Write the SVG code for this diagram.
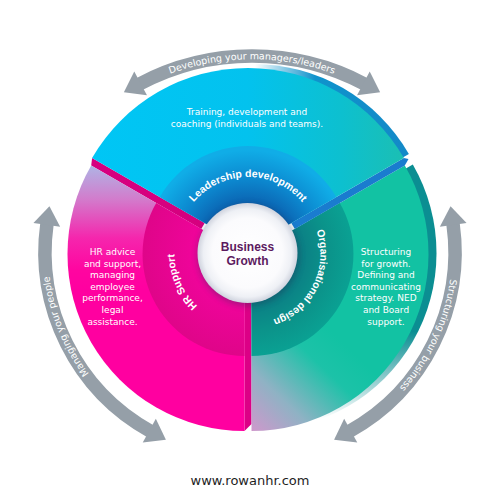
<svg xmlns="http://www.w3.org/2000/svg" width="500" height="500" viewBox="0 0 500 500">
<defs>
<style>
.arrow{fill:none;stroke:#959fa8;stroke-width:13.5;marker-start:url(#ahS);marker-end:url(#ahE)}
.atxt{font-family:"DejaVu Sans",sans-serif;font-size:9.5px;fill:#fff}
.body{font-family:"DejaVu Sans",sans-serif;font-size:9px;fill:#fff;text-anchor:middle}
.lbl{font-family:"Liberation Sans",Arial,sans-serif;font-weight:bold;font-size:10.5px;fill:#fff}
.ctr{font-family:"Liberation Sans",Arial,sans-serif;font-weight:bold;font-size:12px;fill:#5c1a5f;text-anchor:middle}
</style>
<marker id="ahE" markerUnits="userSpaceOnUse" viewBox="-2 -14 20 28" markerWidth="20" markerHeight="28" refX="0" refY="0" orient="auto" overflow="visible">
<path d="M-1.5,-13.5 L17.5,0 L-1.5,13.5 Z" fill="#959fa8"/>
</marker>
<marker id="ahS" markerUnits="userSpaceOnUse" viewBox="-18 -14 20 28" markerWidth="20" markerHeight="28" refX="0" refY="0" orient="auto" overflow="visible">
<path d="M1.5,-13.5 L-17.5,0 L1.5,13.5 Z" fill="#959fa8"/>
</marker>
<linearGradient id="gBlue" gradientUnits="userSpaceOnUse" x1="92" y1="0" x2="404" y2="0">
<stop offset="0" stop-color="#00c6f5"/><stop offset="0.5" stop-color="#03c2ee"/><stop offset="0.8" stop-color="#0dc0cf"/><stop offset="1" stop-color="#1bbfb3"/>
</linearGradient>
<radialGradient id="gBlueRing" gradientUnits="userSpaceOnUse" cx="248" cy="252" r="102">
<stop offset="0.45" stop-color="#0b5fae"/><stop offset="0.72" stop-color="#0c88cf"/><stop offset="1" stop-color="#10ade7"/>
</radialGradient>
<linearGradient id="gBlueRim" gradientUnits="userSpaceOnUse" x1="250" y1="0" x2="400" y2="0">
<stop offset="0" stop-color="#0f93cc" stop-opacity="0"/><stop offset="0.4" stop-color="#0f93cc"/><stop offset="1" stop-color="#1389c8"/>
</linearGradient>
<linearGradient id="gPink" gradientUnits="userSpaceOnUse" x1="0" y1="160" x2="0" y2="290">
<stop offset="0" stop-color="#a9bde9"/><stop offset="0.3" stop-color="#d27ccc"/><stop offset="0.6" stop-color="#f526ad"/><stop offset="0.85" stop-color="#ff05a0"/><stop offset="1" stop-color="#ff00a0"/>
</linearGradient>
<radialGradient id="gPinkRing" gradientUnits="userSpaceOnUse" cx="244.5" cy="254" r="102">
<stop offset="0.5" stop-color="#ef049a"/><stop offset="1" stop-color="#df0589"/>
</radialGradient>
<linearGradient id="gGreen" gradientUnits="userSpaceOnUse" x1="252" y1="432" x2="340" y2="340">
<stop offset="0" stop-color="#cf98cc"/><stop offset="0.35" stop-color="#8fb2c4"/><stop offset="0.75" stop-color="#1cc2a8"/><stop offset="1" stop-color="#12c2a3"/>
</linearGradient>
<radialGradient id="gGreenRing" gradientUnits="userSpaceOnUse" cx="251.5" cy="254" r="102">
<stop offset="0.45" stop-color="#0b7c84"/><stop offset="0.75" stop-color="#0b938a"/><stop offset="1" stop-color="#0aa193"/>
</radialGradient>
<linearGradient id="gGreenRim" gradientUnits="userSpaceOnUse" x1="0" y1="170" x2="0" y2="420">
<stop offset="0" stop-color="#0b8e92"/><stop offset="0.65" stop-color="#0b8e92"/><stop offset="1" stop-color="#0b8e92" stop-opacity="0"/>
</linearGradient>
<radialGradient id="gWhite" cx="0.5" cy="0.5" r="0.5">
<stop offset="0" stop-color="#ffffff"/><stop offset="0.7" stop-color="#fbfbfd"/><stop offset="0.88" stop-color="#eef0f5"/><stop offset="1" stop-color="#cfd3de"/>
</radialGradient>
<filter id="shadow" x="-30%" y="-30%" width="160%" height="160%">
<feGaussianBlur stdDeviation="3"/>
</filter>
<path id="tpTop" d="M29.5,215 A236.8,236.8 0 0 1 474.5,215"/>
<path id="tpLeft" d="M214.9,450.9 A202,202 0 0 1 86.6,133.3"/>
<path id="tpRight" d="M415.5,136.1 A202,202 0 0 1 267.6,453.2"/>
<path id="tpLead" d="M181.3,223.7 A71,71 0 0 1 314.7,223.7"/>
<path id="tpOrg" d="M301.1,206.1 A69,69 0 0 1 244.3,322.6"/>
<path id="tpHR" d="M249.4,323.8 A70,70 0 0 1 195.9,203.6"/>
</defs>
<rect width="500" height="500" fill="#ffffff"/>

<g id="connectors">
<path class="arrow" d="M139.3,84.1 A240,240 0 0 1 364.7,84.1"/>
<path class="arrow" d="M150.6,431.3 A205,205 0 0 1 47.0,223.5"/>
<path class="arrow" d="M453.0,223.5 A205,205 0 0 1 349.4,431.3"/>
<text class="atxt"><textPath href="#tpTop" startOffset="50%" text-anchor="middle">Developing your managers/leaders</textPath></text>
<text class="atxt"><textPath href="#tpLeft" startOffset="50%" text-anchor="middle">Managing your people</textPath></text>
<text class="atxt"><textPath href="#tpRight" startOffset="50%" text-anchor="middle">Structuring your business</textPath></text>
</g>

<g id="node-hr-support">
<polygon points="204.7,223 92.1,158 91.2,165.5 201.2,229" fill="#d6007f"/>
<polygon points="244.5,290 251.5,290 251.5,424 244.5,431" fill="#dc0086"/>
<path d="M244.5,254 L244.5,431 A177,177 0 0 1 91.2,165.5 Z" fill="url(#gPink)"/>
<path d="M244.5,254 L244.5,356 A102,102 0 0 1 156.2,203 Z" fill="url(#gPinkRing)"/>
<text class="lbl"><textPath href="#tpHR" startOffset="50%" text-anchor="middle">HR Support</textPath></text>
<text class="body" x="112.5" y="255">HR advice</text>
<text class="body" x="112.5" y="266.6">and support,</text>
<text class="body" x="112.5" y="278.2">managing</text>
<text class="body" x="112.5" y="289.8">employee</text>
<text class="body" x="112.5" y="301.4">performance,</text>
<text class="body" x="112.5" y="313">legal</text>
<text class="body" x="112.5" y="324.6">assistance.</text>
</g>

<g id="node-organisational-design">
<path d="M251.5,254 L404.8,165.5 A177,177 0 0 1 251.5,431 Z" transform="translate(8,-1)" fill="url(#gGreenRim)"/>
<path d="M251.5,254 L404.8,165.5 A177,177 0 0 1 251.5,431 Z" fill="url(#gGreen)"/>
<path d="M251.5,254 L339.8,203 A102,102 0 0 1 251.5,356 Z" fill="url(#gGreenRing)"/>
<text class="lbl"><textPath href="#tpOrg" startOffset="50%" text-anchor="middle">Organisational design</textPath></text>
<text class="body" x="386" y="255">Structuring</text>
<text class="body" x="386" y="266.6">for growth.</text>
<text class="body" x="386" y="278.2">Defining and</text>
<text class="body" x="386" y="289.8">communicating</text>
<text class="body" x="386" y="301.4">strategy. NED</text>
<text class="body" x="386" y="313">and Board</text>
<text class="body" x="386" y="324.6">support.</text>
</g>

<g id="node-leadership-development">
<path d="M248,248 L92.1,158 A180,180 0 0 1 403.9,158 Z" transform="translate(5,-4)" fill="url(#gBlueRim)"/>
<polygon points="291.3,223 403.9,158 408.5,159 404.8,165.5 294.8,229" fill="#1a7ccf"/>
<path d="M248,248 L92.1,158 A180,180 0 0 1 403.9,158 Z" fill="url(#gBlue)"/>
<path d="M248,248 L159.7,197 A102,102 0 0 1 336.3,197 Z" fill="url(#gBlueRing)"/>
<text class="lbl"><textPath href="#tpLead" startOffset="50%" text-anchor="middle">Leadership development</textPath></text>
<text class="body" x="247" y="114.5">Training, development and</text>
<text class="body" x="247" y="126.5">coaching (individuals and teams).</text>
</g>

<g id="node-business-growth">
<circle cx="248.5" cy="255" r="51" fill="#1a3050" opacity="0.35" filter="url(#shadow)"/>
<circle cx="247.5" cy="253" r="50" fill="url(#gWhite)"/>
<text class="ctr" x="247.5" y="250.5">Business</text>
<text class="ctr" x="247.5" y="264.5">Growth</text>
</g>

<text x="250" y="485" font-family="'DejaVu Sans',sans-serif" font-size="13" fill="#1e1e1e" text-anchor="middle">www.rowanhr.com</text>
</svg>
